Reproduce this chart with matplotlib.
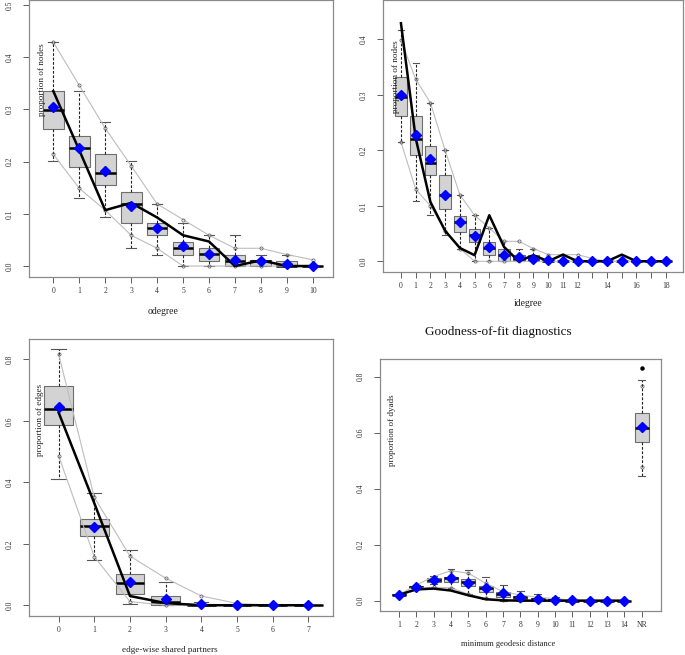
import matplotlib
matplotlib.use("Agg")
import matplotlib.pyplot as plt

plt.rcParams["font.family"] = ["Liberation Serif", "DejaVu Serif"]

# --- odegree (0..10) ---
od_pos = list(range(11))
od_obs = [0.335, 0.222, 0.107, 0.121, 0.093, 0.059, 0.047, 0.000, 0.011, 0.000, 0.000]
od_mean = [0.305, 0.227, 0.183, 0.115, 0.073, 0.038, 0.024, 0.012, 0.010, 0.004, 0.000]
od_q1 = [0.263, 0.190, 0.155, 0.082, 0.059, 0.022, 0.010, 0.000, 0.000, 0.000, 0.000]
od_med = [0.299, 0.227, 0.179, 0.119, 0.072, 0.035, 0.023, 0.010, 0.010, 0.000, 0.000]
od_q3 = [0.335, 0.250, 0.215, 0.142, 0.083, 0.047, 0.034, 0.022, 0.012, 0.010, 0.000]
od_wlo = [0.202, 0.131, 0.094, 0.035, 0.022, 0.000, 0.000, 0.000, 0.000, 0.000, 0.000]
od_whi = [0.429, 0.335, 0.275, 0.202, 0.119, 0.082, 0.059, 0.059, 0.022, 0.022, 0.000]
od_lo = [0.214, 0.149, 0.107, 0.059, 0.034, 0.000, 0.000, 0.000, 0.000, 0.000, 0.000]
od_hi = [0.429, 0.346, 0.264, 0.192, 0.119, 0.089, 0.059, 0.034, 0.034, 0.022, 0.012]
od_labels = [str(i) for i in od_pos]

# --- idegree (0..18) ---
id_pos = list(range(19))
id_obs = [0.429, 0.222, 0.107, 0.055, 0.024, 0.011, 0.083, 0.026, 0.000, 0.011,
          0.000, 0.012, 0.000, 0.000, 0.000, 0.012, 0.000, 0.000, 0.000]
id_mean = [0.300, 0.227, 0.185, 0.119, 0.070, 0.046, 0.026, 0.011, 0.008, 0.005,
           0.002, 0.001, 0.000, 0.000, 0.000, 0.000, 0.000, 0.000, 0.000]
id_q1 = [0.262, 0.191, 0.155, 0.095, 0.053, 0.035, 0.011, 0.000, 0.000, 0.000,
         0.000, 0.000, 0.000, 0.000, 0.000, 0.000, 0.000, 0.000, 0.000]
id_med = [0.297, 0.221, 0.178, 0.119, 0.071, 0.047, 0.024, 0.011, 0.005, 0.002,
          0.000, 0.000, 0.000, 0.000, 0.000, 0.000, 0.000, 0.000, 0.000]
id_q3 = [0.333, 0.262, 0.208, 0.155, 0.082, 0.059, 0.035, 0.023, 0.011, 0.011,
         0.002, 0.000, 0.000, 0.000, 0.000, 0.000, 0.000, 0.000, 0.000]
id_wlo = [0.215, 0.108, 0.083, 0.047, 0.023, 0.000, 0.000, 0.000, 0.000, 0.000,
          0.000, 0.000, 0.000, 0.000, 0.000, 0.000, 0.000, 0.000, 0.000]
id_whi = [0.417, 0.358, 0.286, 0.200, 0.120, 0.083, 0.060, 0.036, 0.023, 0.023,
          0.005, 0.000, 0.000, 0.000, 0.000, 0.000, 0.000, 0.000, 0.000]
id_lo = [0.215, 0.130, 0.100, 0.055, 0.023, 0.000, 0.000, 0.000, 0.000, 0.000,
         0.000, 0.000, 0.000, 0.000, 0.000, 0.000, 0.000, 0.000, 0.000]
id_hi = [0.399, 0.328, 0.286, 0.200, 0.120, 0.083, 0.060, 0.036, 0.036, 0.023,
         0.012, 0.012, 0.012, 0.005, 0.000, 0.000, 0.000, 0.000, 0.000]
id_labels = ["0", "1", "2", "3", "4", "5", "6", "7", "8", "9", "10", "11", "12",
             "", "14", "", "16", "", "18"]

# --- edge-wise shared partners (0..7) ---
esp_pos = list(range(8))
esp_obs = [0.627, 0.332, 0.030, 0.007, 0.000, 0.000, 0.000, 0.000]
esp_mean = [0.646, 0.256, 0.074, 0.020, 0.004, 0.000, 0.000, 0.000]
esp_q1 = [0.586, 0.225, 0.037, 0.000, 0.000, 0.000, 0.000, 0.000]
esp_med = [0.638, 0.259, 0.072, 0.011, 0.000, 0.000, 0.000, 0.000]
esp_q3 = [0.714, 0.281, 0.101, 0.030, 0.005, 0.000, 0.000, 0.000]
esp_wlo = [0.410, 0.147, 0.005, 0.000, 0.000, 0.000, 0.000, 0.000]
esp_whi = [0.833, 0.364, 0.180, 0.076, 0.012, 0.000, 0.000, 0.000]
esp_lo = [0.486, 0.158, 0.012, 0.000, 0.000, 0.000, 0.000, 0.000]
esp_hi = [0.817, 0.351, 0.160, 0.088, 0.030, 0.006, 0.000, 0.000]
esp_labels = [str(i) for i in esp_pos]

# --- minimum geodesic distance (1..14, NR) ---
gd_pos = list(range(1, 16))
gd_obs = [0.021, 0.040, 0.043, 0.036, 0.019, 0.005, 0.001, 0.000, 0.000, 0.000,
          0.000, 0.000, 0.000, 0.000]
gd_mean = [0.021, 0.048, 0.074, 0.080, 0.064, 0.044, 0.026, 0.012, 0.006, 0.004,
           0.001, 0.000, 0.000, 0.000, 0.619]
gd_q1 = [0.020, 0.045, 0.068, 0.068, 0.054, 0.030, 0.014, 0.005, 0.000, 0.000,
         0.000, 0.000, 0.000, 0.000, 0.568]
gd_med = [0.021, 0.049, 0.074, 0.080, 0.065, 0.044, 0.024, 0.012, 0.005, 0.002,
          0.000, 0.000, 0.000, 0.000, 0.615]
gd_q3 = [0.022, 0.052, 0.080, 0.086, 0.076, 0.054, 0.032, 0.018, 0.008, 0.005,
         0.001, 0.000, 0.000, 0.000, 0.669]
gd_wlo = [0.019, 0.042, 0.060, 0.046, 0.023, 0.005, 0.000, 0.000, 0.000, 0.000,
          0.000, 0.000, 0.000, 0.000, 0.446]
gd_whi = [0.023, 0.056, 0.088, 0.112, 0.110, 0.083, 0.056, 0.036, 0.024, 0.014,
          0.004, 0.001, 0.000, 0.000, 0.788]
gd_lo = [0.021, 0.043, 0.048, 0.046, 0.023, 0.008, 0.002, 0.000, 0.000, 0.000,
         0.000, 0.000, 0.000, 0.000, 0.479]
gd_hi = [0.021, 0.056, 0.086, 0.107, 0.098, 0.062, 0.032, 0.020, 0.012, 0.007,
         0.002, 0.000, 0.000, 0.000, 0.767]
gd_nr_point = 0.830
gd_labels = [str(i) for i in range(1, 15)] + ["NR"]

W, H = 685, 655


def place(x0, y0, x1, y1):
    # pixel box (top-left origin) -> figure fraction
    return [x0 / W, 1 - y1 / H, (x1 - x0) / W, (y1 - y0) / H]


def draw_panel(ax, pos, q1, med, q3, wlo, whi, lo, hi, mean, obs, nline):
    stats = []
    for i in range(len(pos)):
        stats.append({"q1": q1[i], "med": med[i], "q3": q3[i],
                      "whislo": wlo[i], "whishi": whi[i], "fliers": []})
    ax.bxp(stats, positions=pos, widths=0.8, patch_artist=True, showfliers=False,
           manage_ticks=False,
           boxprops=dict(facecolor="#D3D3D3", edgecolor="#6E6E6E", linewidth=0.8),
           whiskerprops=dict(color="#222222", linestyle=(0, (2.5, 1.5)), linewidth=0.8),
           capprops=dict(color="#555555", linewidth=0.8),
           medianprops=dict(color="black", linewidth=1.8))
    for band in (lo, hi):
        ax.plot(pos[:nline], band[:nline], color="#BDBDBD", lw=0.8, zorder=3)
        ax.plot(pos, band, ls="none", marker="o", ms=2.3, mfc="none",
                mec="#555555", mew=0.5, zorder=3)
    ax.plot(pos[:nline], obs[:nline], color="black", lw=1.8, zorder=4)
    ax.plot(pos, mean, ls="none", marker="D", ms=5.3, color="#0000FF", zorder=5)


def style_axes(ax, xlim, ylim, ticks, labels, yticks):
    ax.set_xlim(*xlim)
    ax.set_ylim(*ylim)
    ax.set_xticks(ticks)
    ax.set_xticklabels(labels)
    ax.set_yticks(yticks)
    ax.set_yticklabels([f"{v:.1f}" for v in yticks])
    for s in ax.spines.values():
        s.set_color("#8A8A8A")
        s.set_linewidth(0.9)
    ax.tick_params(axis="both", direction="out", length=4, width=0.6,
                   color="#444444", labelsize=5.5, labelcolor="#333333")
    ax.tick_params(axis="x", pad=3)
    ax.tick_params(axis="y", labelrotation=90, pad=7)
    for t in ax.get_yticklabels():
        t.set_va("center")


fig = plt.figure(figsize=(W / 100, H / 100), dpi=100)

# top-left: odegree
ax1 = fig.add_axes(place(29, 0, 333, 277))
draw_panel(ax1, od_pos, od_q1, od_med, od_q3, od_wlo, od_whi, od_lo, od_hi,
           od_mean, od_obs, len(od_pos))
style_axes(ax1, (-0.937, 10.78), (-0.021, 0.5096), od_pos, od_labels,
           [0.0, 0.1, 0.2, 0.3, 0.4, 0.5])

# top-right: idegree
ax2 = fig.add_axes(place(383, 0, 683, 272))
draw_panel(ax2, id_pos, id_q1, id_med, id_q3, id_wlo, id_whi, id_lo, id_hi,
           id_mean, id_obs, len(id_pos))
style_axes(ax2, (-1.22, 19.16), (-0.0193, 0.471), id_pos, id_labels,
           [0.0, 0.1, 0.2, 0.3, 0.4])

# bottom-left: esp
ax3 = fig.add_axes(place(29, 339, 333, 616))
draw_panel(ax3, esp_pos, esp_q1, esp_med, esp_q3, esp_wlo, esp_whi, esp_lo, esp_hi,
           esp_mean, esp_obs, len(esp_pos))
style_axes(ax3, (-0.83, 7.69), (-0.035, 0.866), esp_pos, esp_labels,
           [0.0, 0.2, 0.4, 0.6, 0.8])

# bottom-right: geodesic distance
ax4 = fig.add_axes(place(380, 359, 661, 611))
draw_panel(ax4, gd_pos, gd_q1, gd_med, gd_q3, gd_wlo, gd_whi, gd_lo, gd_hi,
           gd_mean, gd_obs, len(gd_obs))
ax4.plot([gd_pos[-1]], [gd_nr_point], ls="none", marker="o", ms=2.2, color="black",
         zorder=5)
style_axes(ax4, (-0.096, 16.11), (-0.037, 0.863), gd_pos, gd_labels,
           [0.0, 0.2, 0.4, 0.6, 0.8])

# axis titles (R mtext landed inside the panels in the original)
c = "#222222"
fig.text(163 / W, 1 - 312 / H, "odegree", ha="center", va="center",
         fontsize=7, color=c)
fig.text(42 / W, 1 - 80 / H, "proportion of nodes", rotation=90,
         ha="center", va="center", fontsize=6.6, color=c)
fig.text(528 / W, 1 - 304 / H, "idegree", ha="center", va="center",
         fontsize=7, color=c)
fig.text(396 / W, 1 - 77 / H, "proportion of nodes", rotation=90,
         ha="center", va="center", fontsize=6.6, color=c)
fig.text(170 / W, 1 - 650 / H, "edge-wise shared partners", ha="center",
         va="center", fontsize=6.6, color=c)
fig.text(40 / W, 1 - 420 / H, "proportion of edges", rotation=90,
         ha="center", va="center", fontsize=6.6, color=c)
fig.text(508 / W, 1 - 644 / H, "minimum geodesic distance", ha="center",
         va="center", fontsize=6, color=c)
fig.text(392 / W, 1 - 430 / H, "proportion of dyads", rotation=90,
         ha="center", va="center", fontsize=6.5, color=c)

fig.text(498 / W, 1 - 332 / H, "Goodness-of-fit diagnostics", ha="center",
         va="center", fontsize=9.5, color="#111111")

fig.savefig("out.png", dpi=100)
